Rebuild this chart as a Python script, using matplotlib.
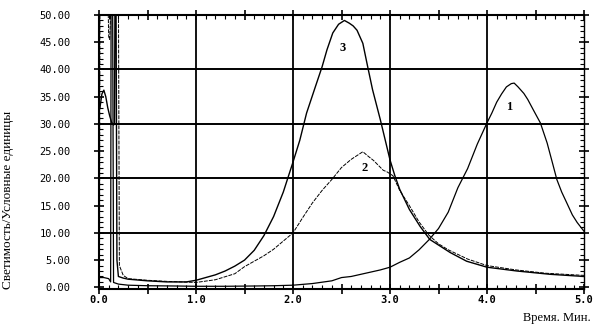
import numpy as np
import matplotlib
matplotlib.use("Agg")
import matplotlib.pyplot as plt
from matplotlib.ticker import MultipleLocator, FuncFormatter

# curve 1: late peak near 4.3 min (solid)
t1 = [0.0, 0.05, 0.10, 0.12, 0.125, 0.14, 0.15, 0.2, 0.3, 0.5, 0.8, 1.0, 1.3, 1.6,
      1.8, 2.0, 2.2, 2.4, 2.5, 2.6, 2.7, 2.8, 2.9, 3.0, 3.1, 3.2, 3.3, 3.4, 3.5,
      3.6, 3.7, 3.8, 3.9, 4.0, 4.05, 4.1, 4.15, 4.2, 4.25, 4.28, 4.32, 4.38, 4.42,
      4.48, 4.55, 4.62, 4.68, 4.72, 4.77, 4.82, 4.88, 4.93, 5.0]
y1 = [1.8, 1.8, 1.6, 1.0, 55, 55, 0.9, 0.6, 0.4, 0.3, 0.25, 0.2, 0.2, 0.25,
      0.3, 0.4, 0.7, 1.2, 1.8, 2.0, 2.4, 2.8, 3.2, 3.7, 4.6, 5.4, 6.9, 8.7, 10.8,
      13.8, 18.3, 21.8, 26.3, 30.2, 32.0, 34.0, 35.5, 36.8, 37.4, 37.5, 36.8, 35.6, 34.5,
      32.5, 30.2, 26.5, 22.5, 19.8, 17.5, 15.6, 13.3, 11.9, 10.3]

# curve 2: middle peak near 2.75 min (thin dashed)
t2 = [0.005, 0.01, 0.09, 0.10, 0.11, 0.13, 0.20, 0.21, 0.25, 0.3, 0.5, 0.7, 1.0,
      1.2, 1.4, 1.5, 1.6, 1.7, 1.8, 1.9, 2.0, 2.1, 2.2, 2.3, 2.4, 2.5, 2.6, 2.66,
      2.72, 2.78, 2.83, 2.88, 2.93, 2.97, 3.03, 3.1, 3.2, 3.3, 3.4, 3.5, 3.6, 3.8,
      4.0, 4.3, 4.6, 5.0]
y2 = [0.0, 55, 55, 46, 45.5, 55, 55, 4.0, 2.2, 1.6, 1.3, 1.1, 0.9,
      1.4, 2.5, 3.8, 4.8, 5.8, 7.0, 8.5, 10.0, 12.8, 15.5, 17.8, 19.8, 22.0, 23.5, 24.2,
      24.9, 24.0, 23.3, 22.4, 21.5, 21.2, 20.5, 17.8, 15.0, 12.0, 9.6, 8.0, 6.9, 5.2,
      4.0, 3.2, 2.6, 2.2]

# curve 3: tall peak near 2.55 min (solid)
t3 = [0.01, 0.03, 0.05, 0.07, 0.09, 0.11, 0.13, 0.15, 0.16, 0.165, 0.175, 0.185,
      0.2, 0.25, 0.3, 0.5, 0.7, 0.9, 1.0, 1.1, 1.2, 1.3, 1.4, 1.5, 1.6, 1.7, 1.8,
      1.9, 2.0, 2.07, 2.14, 2.23, 2.3, 2.35, 2.41, 2.47, 2.53, 2.58, 2.62, 2.66,
      2.72, 2.77, 2.82, 2.9, 2.95, 3.0, 3.05, 3.1, 3.2, 3.31, 3.41, 3.62, 3.79,
      4.0, 4.31, 4.65, 5.0]
y3 = [33.0, 35.5, 36.2, 35.0, 33.0, 31.5, 30.3, 29.8, 30.0, 55, 55, 5.0,
      2.0, 1.7, 1.5, 1.2, 1.0, 1.0, 1.3, 1.8, 2.3, 3.0, 3.9, 5.0, 6.8, 9.5, 13.0,
      17.5, 23.0, 27.0, 32.0, 36.8, 40.5, 43.6, 46.7, 48.3, 49.0, 48.5, 48.0, 47.2,
      44.8, 40.5, 36.3, 30.8, 27.1, 23.4, 20.5, 18.0, 14.3, 11.2, 8.8, 6.4, 4.8,
      3.7, 3.0, 2.4, 2.0]

curve_labels = ["1", "2", "3"]
label_pos = [(4.23, 33.1), (2.74, 22.0), (2.51, 44.0)]

x_grid = [1, 2, 3, 4]
y_grid = [10, 20, 30, 40]

fig = plt.figure(figsize=(5.97, 3.33), dpi=100)
ax = fig.add_axes([99 / 597, 1 - 289 / 333, 485 / 597, 274 / 333])

for gx in x_grid:
    ax.axvline(gx, color="black", lw=1.3, zorder=1)
for gy in y_grid:
    ax.axhline(gy, color="black", lw=1.4, zorder=1)

ax.plot(t1, y1, color="black", lw=0.9, zorder=3)
ax.plot(t2, y2, color="black", lw=0.7, ls=(0, (4, 1.2)), zorder=3)
ax.plot(t3, y3, color="black", lw=1.0, zorder=3)

for lab, (lx, ly) in zip(curve_labels, label_pos):
    ax.text(lx, ly, lab, ha="center", va="center", fontsize=9,
            family="Liberation Serif", fontweight="bold", zorder=4)

ax.set_xlim(0, 5.0)
ax.set_ylim(-0.3, 50)

ax.xaxis.set_major_locator(MultipleLocator(0.5))
ax.xaxis.set_minor_locator(MultipleLocator(0.1))
ax.xaxis.set_major_formatter(FuncFormatter(
    lambda v, p: f"{v:.1f}" if abs(v - round(v)) < 1e-6 else ""))
ax.yaxis.set_major_locator(MultipleLocator(5))
ax.yaxis.set_minor_locator(MultipleLocator(1))
ax.yaxis.set_major_formatter(FuncFormatter(lambda v, p: f"{v:.2f}"))

ax.tick_params(axis="x", which="major", direction="inout", length=7, width=1.2,
               pad=0.5, top=True, labelsize=7.5)
ax.tick_params(axis="x", which="minor", direction="in", length=3, width=0.8, top=True)
ax.tick_params(axis="y", which="major", direction="inout", length=7, width=1.2,
               pad=17, right=True, labelsize=7.5)
ax.tick_params(axis="y", which="minor", direction="in", length=3, width=0.8, right=True)

for lab in ax.get_xticklabels():
    lab.set_family("DejaVu Sans Mono")
    lab.set_fontweight("bold")
for lab in ax.get_yticklabels():
    lab.set_family("DejaVu Sans Mono")

for side in ["left", "bottom", "top"]:
    ax.spines[side].set_linewidth(1.5)
ax.spines["right"].set_linewidth(1.0)

fig.text(0.014, 0.40, "Светимость/Условные единицы", rotation=90, ha="center",
         va="center", fontsize=9.5, family="Liberation Serif")
fig.text(0.99, 0.045, "Время. Мин.", ha="right", va="center", fontsize=9,
         family="Liberation Serif")

fig.savefig("out.png", dpi=100)
